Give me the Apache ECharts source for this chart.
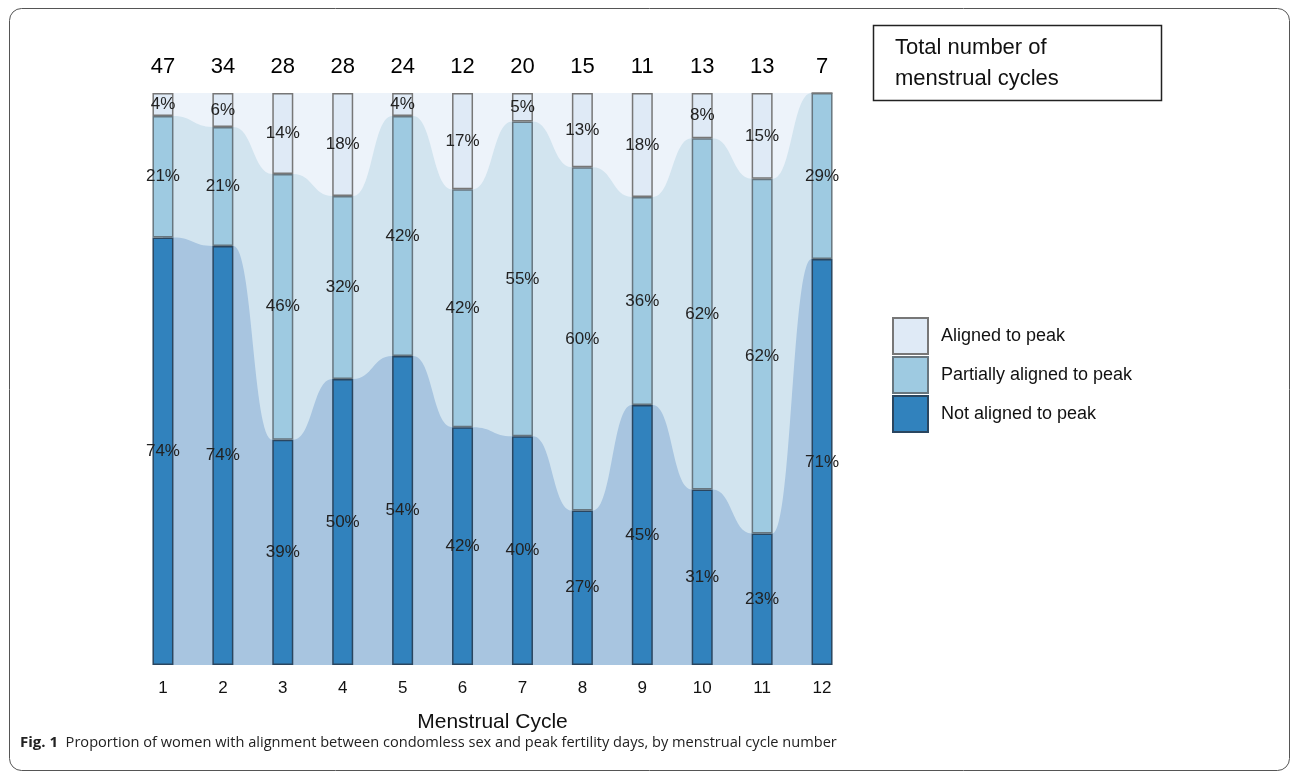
<!DOCTYPE html>
<html><head><meta charset="utf-8">
<script src="https://cdn.jsdelivr.net/npm/echarts@6/dist/echarts.min.js"></script>
<style>html,body{margin:0;padding:0;background:#fff}#c{width:1295px;height:776px}</style>
</head><body><div id="c"></div>
<script>
// ---- data ----
const cycles = ['1','2','3','4','5','6','7','8','9','10','11','12'];
const totals = ['47','34','28','28','24','12','20','15','11','13','13','7'];
const notAligned = [74,74,39,50,54,42,40,27,45,31,23,71];
const partiallyAligned = [21,21,46,32,42,42,55,60,36,62,62,29];
const aligned = [4,6,14,18,4,17,5,13,18,8,15,0];
const seriesNames = ['Aligned to peak','Partially aligned to peak','Not aligned to peak'];

// ---- build normalised (100%) stacks for drawing ----
const sums = cycles.map((c,i)=>notAligned[i]+partiallyAligned[i]+aligned[i]);
const nd = notAligned.map((v,i)=>v/sums[i]*100);
const pd = partiallyAligned.map((v,i)=>v/sums[i]*100);
const ad = aligned.map((v,i)=>v/sums[i]*100);
const cumDark = nd;
const cumMid = nd.map((v,i)=>v+pd[i]);
const cumTop = cumMid.map((v,i)=>v+ad[i]);

const BAR_W = 21;
const FONT = '"Liberation Sans", Arial, sans-serif';

function flowData(cum){
  const out=[];
  for(let i=0;i<cum.length-1;i++) out.push([i, cum[i], cum[i+1]]);
  return out;
}
function flowSeries(cum, color, z){
  return {
    type:'custom', xAxisIndex:0, yAxisIndex:0, silent:true, z:z,
    data: flowData(cum),
    encode:{x:0, y:[1,2]},
    renderItem:function(params, api){
      const i = api.value(0);
      const a = api.coord([i, api.value(1)]);
      const b = api.coord([i+1, api.value(2)]);
      const base = api.coord([i, 0])[1];
      const hw = BAR_W/2;
      const x0 = a[0]+hw, x1 = b[0]-hw, mx=(x0+x1)/2;
      const d = 'M'+a[0]+','+base+' L'+a[0]+','+a[1]+' L'+x0+','+a[1]+
        ' C'+mx+','+a[1]+' '+mx+','+b[1]+' '+x1+','+b[1]+
        ' L'+b[0]+','+b[1]+' L'+b[0]+','+base+' Z';
      return {type:'path', shape:{pathData:d}, style:{fill:color, stroke:null}};
    }
  };
}
function pctLabel(arr){
  return {
    show:true, position:'inside', color:'#222', fontSize:17, fontFamily:FONT,
    formatter:function(p){ const v=arr[p.dataIndex]; return v>0 ? v+'%' : ''; }
  };
}

const chart = echarts.init(document.getElementById('c'), null, {renderer:'canvas'});
chart.setOption({
  animation:false,
  backgroundColor:'#fff',
  grid:{left:133, top:93, width:719, height:572, containLabel:false},
  xAxis:[
    {type:'category', data:cycles, position:'bottom',
     axisLine:{show:false}, axisTick:{show:false},
     axisLabel:{color:'#111', fontSize:17, fontFamily:FONT, margin:15},
     name:'Menstrual Cycle', nameLocation:'middle', nameGap:47,
     nameTextStyle:{color:'#111', fontSize:21, fontFamily:FONT}},
    {type:'category', data:totals, position:'top', gridIndex:0,
     axisLine:{show:false}, axisTick:{show:false},
     axisLabel:{color:'#000', fontSize:22, fontFamily:FONT, margin:15}}
  ],
  yAxis:{type:'value', min:0, max:100, show:false, splitLine:{show:false}},
  legend:{
    data:seriesNames, orient:'vertical', left:887, top:312,
    itemWidth:35, itemHeight:36, itemGap:1, icon:'rect',
    textStyle:{color:'#111', fontSize:18, fontFamily:FONT, padding:[0,0,0,8]}
  },
  series:[
    flowSeries(cumTop, '#edf3fa', 1),
    flowSeries(cumMid, '#d2e4ef', 2),
    flowSeries(cumDark, '#a8c5e0', 3),
    {name:'Not aligned to peak', type:'bar', stack:'s', barWidth:BAR_W, z:5,
     data:nd, itemStyle:{color:'#3182bd', borderColor:'#2a4660', borderWidth:1.5},
     label:pctLabel(notAligned)},
    {name:'Partially aligned to peak', type:'bar', stack:'s', barWidth:BAR_W, z:5,
     data:pd, itemStyle:{color:'#9ecae1', borderColor:'#67767f', borderWidth:1.5},
     label:pctLabel(partiallyAligned)},
    {name:'Aligned to peak', type:'bar', stack:'s', barWidth:BAR_W, z:5,
     data:ad, itemStyle:{color:'#dfeaf6', borderColor:'#777', borderWidth:1.5},
     label:pctLabel(aligned)}
  ],
  graphic:[
    {type:'rect', z:0, silent:true,
     shape:{x:9.5, y:8.5, width:1280, height:762, r:12},
     style:{fill:'none', stroke:'#555', lineWidth:1}},
    {type:'rect', silent:true,
     shape:{x:873.5, y:25.5, width:288, height:75},
     style:{fill:'#fff', stroke:'#222', lineWidth:1.5}},
    {type:'text', silent:true, x:895, y:32,
     style:{text:'Total number of\nmenstrual cycles', fill:'#111', fontSize:22,
            fontFamily:FONT, lineHeight:31}},
    {type:'text', silent:true, x:20, y:743,
     style:{text:'{b|Fig. 1}  Proportion of women with alignment between condomless sex and peak fertility days, by menstrual cycle number',
            fill:'#222', fontSize:14.6, fontFamily:'"Open Sans", sans-serif', verticalAlign:'middle',
            rich:{b:{fontWeight:'bold', fontSize:15, fontFamily:'"Open Sans", sans-serif', fill:'#222'}}}}
  ]
});
</script>
</body></html>
